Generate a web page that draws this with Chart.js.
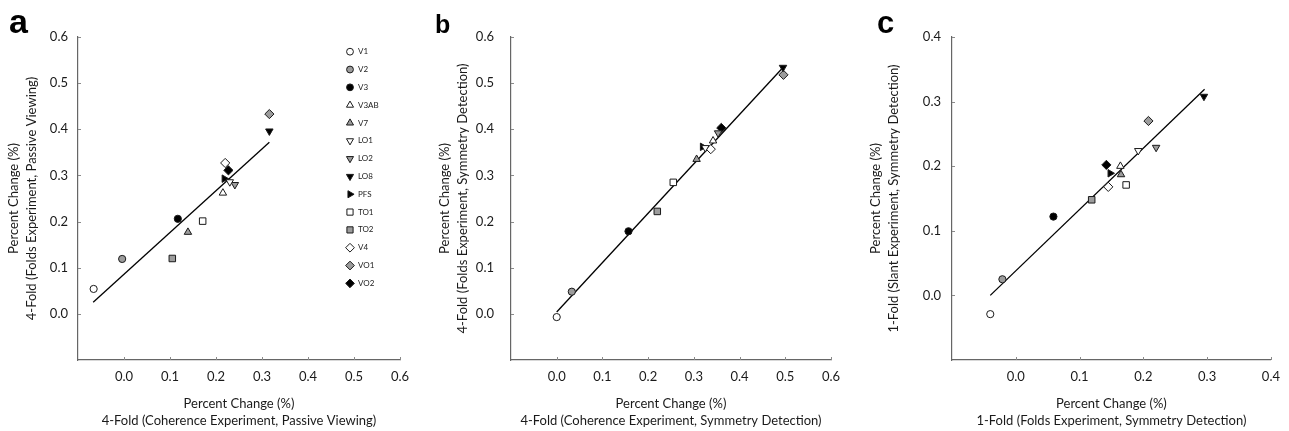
<!DOCTYPE html>
<html>
<head>
<meta charset="utf-8">
<script src="https://cdn.jsdelivr.net/npm/chart.js@4/dist/chart.umd.min.js"></script>
<style>
html,body{margin:0;padding:0;background:#fff;}
#wrap{position:relative;width:1289px;height:431px;overflow:hidden;background:#fff;}
canvas{position:absolute;top:0;}
.letter{position:absolute;font-family:"Liberation Sans",Arial,sans-serif;font-weight:bold;color:#000;line-height:1;margin:0;}
</style>
</head>
<body>
<div id="wrap">
  <canvas id="ca" width="430" height="431" style="left:0px"></canvas>
  <canvas id="cb" width="435" height="431" style="left:430px"></canvas>
  <canvas id="cc" width="424" height="431" style="left:865px"></canvas>
  <div class="letter" style="left:9px;top:4px;font-size:34px;">a</div>
  <div class="letter" style="left:435px;top:12px;font-size:25px;">b</div>
  <div class="letter" style="left:877px;top:7px;font-size:31px;">c</div>
</div>
<script>
// ---------- data ----------
const regions = ['V1','V2','V3','V3AB','V7','LO1','LO2','LO8','PFS','TO1','TO2','V4','VO1','VO2'];

// Panel a: Coherence (passive) vs Folds (passive)
const aX = [-0.066, -0.004, 0.117, 0.215, 0.139, 0.230, 0.241, 0.316, 0.218, 0.171, 0.105, 0.220, 0.316, 0.227];
const aY = [ 0.054,  0.119, 0.206, 0.262, 0.177, 0.286, 0.280, 0.396, 0.293, 0.201, 0.120, 0.327, 0.433, 0.311];
const aFitX = [-0.067, 0.316];
const aFitY = [ 0.025, 0.372];

// Panel b: Coherence (symmetry) vs Folds (symmetry)
const bX = [ 0.000, 0.033, 0.157, 0.342, 0.306, 0.325, 0.353, 0.495, 0.319, 0.255, 0.220, 0.337, 0.496, 0.360];
const bY = [-0.007, 0.048, 0.179, 0.375, 0.335, 0.360, 0.392, 0.534, 0.362, 0.285, 0.222, 0.357, 0.518, 0.403];
const bFitX = [0.000, 0.495];
const bFitY = [0.004, 0.534];

// Panel c: 1-fold Folds (symmetry) vs Slant (symmetry)
const cX = [-0.040, -0.021, 0.059, 0.164, 0.165, 0.192, 0.220, 0.295, 0.148, 0.173, 0.119, 0.145, 0.208, 0.142];
const cY = [-0.029,  0.025, 0.122, 0.200, 0.187, 0.224, 0.229, 0.308, 0.189, 0.171, 0.148, 0.168, 0.270, 0.202];
const cFitX = [-0.040, 0.296];
const cFitY = [ 0.000, 0.319];

// tick labels
const ticksAB = [0.0, 0.1, 0.2, 0.3, 0.4, 0.5, 0.6];
const ticksC  = [0.0, 0.1, 0.2, 0.3, 0.4];

// ---------- styles ----------
const WHITE = '#ffffff', GREY = '#9c9c9c', BLACK = '#000000';
const markerShape = ['circle','circle','circle','triangle','triangle','triangle','triangle','triangle','triangle','rect','rect','rectRot','rectRot','rectRot'];
const markerRot   = [0,0,0,0,0,180,180,180,90,0,0,0,0,0];
const markerFill  = [WHITE,GREY,BLACK,WHITE,GREY,WHITE,GREY,BLACK,BLACK,WHITE,GREY,WHITE,GREY,BLACK];
const markerSize  = {circle:3.6, triangle:4.3, rect:4.6, rectRot:4.6};
const FONT = 'Lato, "Open Sans", sans-serif';
const TXT = '#1a1a1a';

const legendPlugin = {
  id: 'inLegend',
  afterDraw(chart, args, o) {
    if (!o || !o.show) return;
    const ctx = chart.ctx;
    regions.forEach((r, i) => {
      const y = o.y0 + i * o.dy;
      ctx.save();
      ctx.fillStyle = markerFill[i];
      ctx.strokeStyle = '#1a1a1a';
      ctx.lineWidth = 1;
      Chart.helpers.drawPoint(ctx, {
        pointStyle: markerShape[i],
        rotation: markerRot[i],
        radius: markerSize[markerShape[i]] * 0.95,
        borderWidth: 1
      }, o.x, y);
      ctx.restore();
      ctx.save();
      ctx.fillStyle = TXT;
      ctx.font = '8px ' + FONT;
      ctx.textBaseline = 'middle';
      ctx.textAlign = 'left';
      ctx.fillText(r, o.x + 8, y);
      ctx.restore();
    });
  }
};

const tickMarks = {
  id: 'tickMarks',
  afterDraw(chart) {
    const {ctx, chartArea} = chart;
    const sx = chart.scales.x, sy = chart.scales.y;
    ctx.save();
    ctx.strokeStyle = '#8a8a8a';
    ctx.lineWidth = 1;
    ctx.beginPath();
    sx.ticks.forEach(t => {
      const px = Math.round(sx.getPixelForValue(t.value)) + 0.5;
      ctx.moveTo(px, chartArea.bottom);
      ctx.lineTo(px, chartArea.bottom - 3);
    });
    sy.ticks.forEach(t => {
      const py = Math.round(sy.getPixelForValue(t.value)) + 0.5;
      ctx.moveTo(chartArea.left, py);
      ctx.lineTo(chartArea.left + 3, py);
    });
    ctx.stroke();
    ctx.restore();
  }
};

function makePanel(id, xs, ys, fitX, fitY, ticks, min, max, cfg) {
  const datasets = regions.map((r, i) => ({
    label: r,
    data: [{x: xs[i], y: ys[i]}],
    pointStyle: markerShape[i],
    rotation: markerRot[i],
    pointRadius: markerSize[markerShape[i]],
    pointHoverRadius: markerSize[markerShape[i]],
    backgroundColor: markerFill[i],
    borderColor: '#1a1a1a',
    borderWidth: 1,
    order: 1
  }));
  datasets.push({
    type: 'line',
    label: 'fit',
    data: fitX.map((x, k) => ({x: x, y: fitY[k]})),
    borderColor: '#000',
    borderWidth: 1.3,
    pointRadius: 0,
    fill: false,
    order: 2
  });
  const titleFont = {family: FONT, size: 13, lineHeight: 1.3};
  return new Chart(document.getElementById(id), {
    type: 'scatter',
    data: {datasets},
    plugins: [tickMarks, legendPlugin],
    options: {
      responsive: false,
      animation: false,
      events: [],
      layout: {padding: {left: 0, top: 37, right: cfg.padRight, bottom: 0}},
      plugins: {
        legend: {display: false},
        tooltip: {enabled: false},
        inLegend: cfg.legend || {show: false}
      },
      scales: {
        x: {
          type: 'linear', min: min, max: max,
          afterBuildTicks: s => { s.ticks = ticks.map(v => ({value: v})); },
          afterFit: s => { s.height = 71; },
          grid: {display: false, drawTicks: false},
          border: {display: true, color: '#666', width: 1.2},
          ticks: {padding: 9, color: TXT, font: {family: FONT, size: 13}, callback: v => Number(v).toFixed(1)},
          title: {display: true, text: ['Percent Change (%)', cfg.xTitle], color: TXT, font: titleFont, padding: {top: 0, bottom: 2}}
        },
        y: {
          type: 'linear', min: min, max: max,
          afterBuildTicks: s => { s.ticks = ticks.map(v => ({value: v})); },
          afterFit: s => { s.width = cfg.yWidth; },
          grid: {display: false, drawTicks: false},
          border: {display: true, color: '#666', width: 1.2},
          ticks: {padding: cfg.yTickPad, color: TXT, font: {family: FONT, size: 13}, callback: v => Number(v).toFixed(1)},
          title: {display: true, text: ['Percent Change (%)', cfg.yTitle], color: TXT, font: {family: FONT, size: 13, lineHeight: 1.38}, padding: {top: cfg.yTitlePad, bottom: 0}}
        }
      }
    }
  });
}

makePanel('ca', aX, aY, aFitX, aFitY, ticksAB, -0.1, 0.6, {
  yWidth: 78, yTickPad: 10, yTitlePad: 5, padRight: 30,
  xTitle: '4-Fold (Coherence Experiment, Passive Viewing)',
  yTitle: '4-Fold (Folds Experiment, Passive Viewing)',
  legend: {show: true, x: 350, y0: 51.7, dy: 17.82}
});
makePanel('cb', bX, bY, bFitX, bFitY, ticksAB, -0.1, 0.6, {
  yWidth: 81, yTickPad: 17, yTitlePad: 6, padRight: 34,
  xTitle: '4-Fold (Coherence Experiment, Symmetry Detection)',
  yTitle: '4-Fold (Folds Experiment, Symmetry Detection)'
});
makePanel('cc', cX, cY, cFitX, cFitY, ticksC, -0.1, 0.4, {
  yWidth: 87, yTickPad: 11, yTitlePad: 2, padRight: 17,
  xTitle: '1-Fold (Folds Experiment, Symmetry Detection)',
  yTitle: '1-Fold (Slant Experiment, Symmetry Detection)'
});
</script>
</body>
</html>
